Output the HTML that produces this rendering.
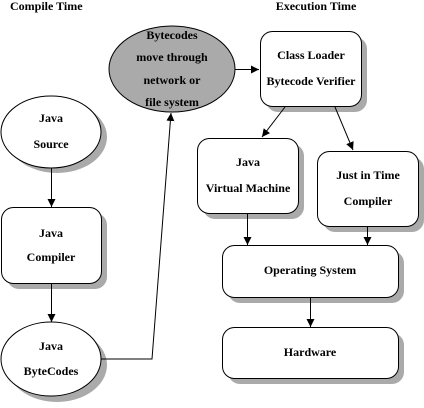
<!DOCTYPE html>
<html><head><style>
html,body{margin:0;padding:0;background:#fff;}
text{font-family:"Liberation Serif",serif;font-weight:bold;font-size:12px;fill:#000;}
</style></head><body>
<svg width="424" height="403" viewBox="0 0 424 403" xmlns="http://www.w3.org/2000/svg">
<defs>
<marker id="a" markerWidth="8" markerHeight="10" refX="8" refY="5" orient="auto" markerUnits="userSpaceOnUse">
<path d="M0,1 L8,5 L0,9 z" fill="#000"/>
</marker>
</defs>
<g fill="#aaa">
<ellipse cx="57" cy="137" rx="50" ry="36"/>
<rect x="7" y="213" width="100" height="76" rx="12"/>
<ellipse cx="57" cy="365" rx="50" ry="37"/>
<rect x="266" y="37" width="101" height="75" rx="12"/>
<rect x="203" y="144" width="101" height="75" rx="12"/>
<rect x="323" y="157" width="101" height="75" rx="12"/>
<rect x="228" y="251" width="176" height="52" rx="12"/>
<rect x="228" y="333" width="176" height="51" rx="12"/>
</g>
<g stroke="#000" stroke-width="1" fill="#fff">
<ellipse cx="51" cy="132" rx="50" ry="36"/>
<rect x="1.5" y="207.5" width="100" height="76" rx="12"/>
<ellipse cx="51" cy="359" rx="50" ry="37"/>
<ellipse cx="172" cy="69" rx="63" ry="43" fill="#aaa"/>
<rect x="260.5" y="31.5" width="101" height="75" rx="12"/>
<rect x="197.5" y="138.5" width="101" height="75" rx="12"/>
<rect x="317.5" y="151.5" width="101" height="75" rx="12"/>
<rect x="222.5" y="245.5" width="176" height="52" rx="12"/>
<rect x="222.5" y="327.5" width="176" height="51" rx="12"/>
</g>
<g stroke="#000" stroke-width="1" fill="none">
<line x1="51.5" y1="168" x2="51.5" y2="207" marker-end="url(#a)"/>
<line x1="51.5" y1="284" x2="51.5" y2="322" marker-end="url(#a)"/>
<polyline points="101,359 152,359 171,113" marker-end="url(#a)"/>
<line x1="235" y1="69.5" x2="259" y2="69.5" marker-end="url(#a)"/>
<line x1="285" y1="107" x2="262" y2="137" marker-end="url(#a)"/>
<line x1="335" y1="107" x2="353" y2="150" marker-end="url(#a)"/>
<line x1="247.5" y1="214" x2="247.5" y2="245" marker-end="url(#a)"/>
<line x1="367.5" y1="227" x2="367.5" y2="245" marker-end="url(#a)"/>
<line x1="310.5" y1="298" x2="310.5" y2="327" marker-end="url(#a)"/>
</g>
<text x="10" y="10">Compile Time</text>
<text x="316" y="10" text-anchor="middle">Execution Time</text>
<g text-anchor="middle">
<text x="51" y="122">Java</text>
<text x="51" y="148">Source</text>
<text x="51" y="237">Java</text>
<text x="51" y="261">Compiler</text>
<text x="51" y="350">Java</text>
<text x="51" y="375">ByteCodes</text>
<text x="172" y="39">Bytecodes</text>
<text x="172" y="61">move through</text>
<text x="172" y="84">network or</text>
<text x="172" y="106">file system</text>
<text x="311" y="59">Class Loader</text>
<text x="311" y="85">Bytecode Verifier</text>
<text x="248" y="166">Java</text>
<text x="248" y="192">Virtual Machine</text>
<text x="368" y="179">Just in Time</text>
<text x="368" y="205">Compiler</text>
<text x="310" y="274">Operating System</text>
<text x="310" y="356">Hardware</text>
</g>
</svg>
</body></html>
